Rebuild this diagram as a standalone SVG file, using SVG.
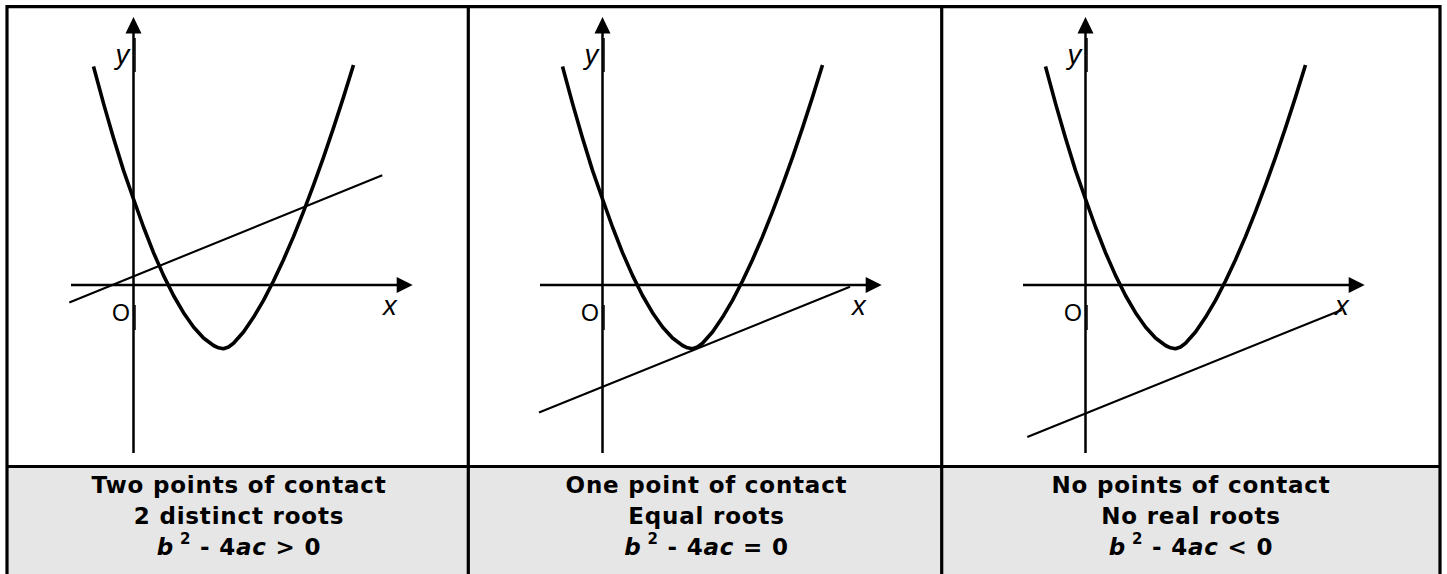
<svg xmlns="http://www.w3.org/2000/svg" width="1447" height="574" viewBox="0 0 1447 574">
<style>
.frame{fill:none;stroke:#000;stroke-width:3.2}
.axis{fill:none;stroke:#000;stroke-width:2.5}
.tick{fill:none;stroke:#000;stroke-width:1.5}
.head{fill:#000}
.curve{fill:none;stroke:#000;stroke-width:3.6;stroke-linejoin:round}
.chord{fill:none;stroke:#000;stroke-width:2.1}
.lbl{font-family:"Liberation Sans",Arial,sans-serif;font-size:27.5px;fill:#000}
.it{font-style:italic}
.cap{font-family:"DejaVu Sans",Verdana,sans-serif;font-weight:bold;font-size:23px;letter-spacing:0.8px;text-anchor:middle;fill:#000}
.sup{font-size:15px}
</style>
<defs>
<g id="graph">
<line class="axis" x1="133.5" y1="30" x2="133.5" y2="453"/>
<line class="tick" x1="135" y1="38" x2="135" y2="72"/>
<line class="tick" x1="135" y1="305" x2="135" y2="330"/>
<polygon class="head" points="133.5,17 125.5,33.5 141.5,33.5"/>
<line class="axis" x1="71" y1="285" x2="400" y2="285"/>
<polygon class="head" points="412.7,285 396.7,277 396.7,293"/>
<polyline class="curve" points="93.5,66.5 103.5,103.4 113.5,137.9 123.5,170.4 133.5,199 143.5,227 153.5,252.6 163.5,275.4 173.5,295.5 183.5,312.7 193.5,327 203.5,338 213.5,345.5 218.5,347.8 223.5,348.7 228.5,347 233.5,343.3 243.5,332 253.5,317.3 263.5,300.3 273.5,281 283.5,259.7 293.5,236.6 303.5,211.7 313.5,185.2 323.5,157.3 333.5,127.9 343.5,97.1 353.5,65"/>
<text class="lbl it" x="115.5" y="64">y</text>
<text class="lbl it" x="383" y="314.5">x</text>
<text class="lbl" x="112" y="321" style="font-size:23px">O</text>
</g>
</defs>
<rect x="7" y="466.5" width="1433" height="108" fill="#e6e6e6"/>
<g id="table">
<line class="frame" x1="7" y1="6.7" x2="1440" y2="6.7"/>
<line class="frame" x1="7" y1="466.5" x2="1440" y2="466.5"/>
<line class="frame" x1="7" y1="5.1" x2="7" y2="574"/>
<line class="frame" x1="468.3" y1="5.1" x2="468.3" y2="574"/>
<line class="frame" x1="941.7" y1="5.1" x2="941.7" y2="574"/>
<line class="frame" x1="1440" y1="5.1" x2="1440" y2="574"/>
</g>
<g id="panel-two-roots">
<use href="#graph"/>
<line class="chord" x1="69.3" y1="302.5" x2="382.3" y2="175.2"/>
<text class="cap" x="239" y="493">Two points of contact</text>
<text class="cap" x="239" y="524">2 distinct roots</text>
<text class="cap" x="239" y="555"><tspan class="it">b</tspan><tspan class="sup" dy="-11"> 2</tspan><tspan dy="11"> - 4</tspan><tspan class="it">ac</tspan> &gt; 0</text>
</g>
<g id="panel-equal-roots">
<use href="#graph" transform="translate(469,0)"/>
<line class="chord" x1="539" y1="412.5" x2="850" y2="286.8"/>
<text class="cap" x="706.5" y="493">One point of contact</text>
<text class="cap" x="706.5" y="524">Equal roots</text>
<text class="cap" x="706.5" y="555"><tspan class="it">b</tspan><tspan class="sup" dy="-11"> 2</tspan><tspan dy="11"> - 4</tspan><tspan class="it">ac</tspan> = 0</text>
</g>
<g id="panel-no-roots">
<use href="#graph" transform="translate(952,0)"/>
<line class="chord" x1="1027.3" y1="437" x2="1341.7" y2="310"/>
<text class="cap" x="1191" y="493">No points of contact</text>
<text class="cap" x="1191" y="524">No real roots</text>
<text class="cap" x="1191" y="555"><tspan class="it">b</tspan><tspan class="sup" dy="-11"> 2</tspan><tspan dy="11"> - 4</tspan><tspan class="it">ac</tspan> &lt; 0</text>
</g>
</svg>
